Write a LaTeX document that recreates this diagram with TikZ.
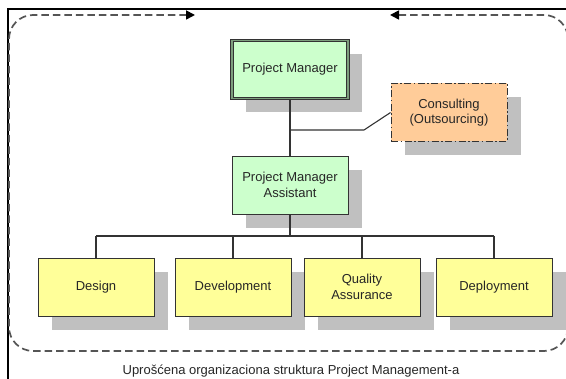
\documentclass[tikz,border=0pt]{standalone}
\usepackage{fontspec}
\setmainfont{Liberation Sans}
\usetikzlibrary{arrows.meta,shadows}
\definecolor{PMGreen}{HTML}{CCFFCC}
\definecolor{PMEdge}{HTML}{7E9E7E}
\definecolor{TeamYellow}{HTML}{FFFF99}
\definecolor{OutOrange}{HTML}{FFCC99}
\definecolor{Shade}{HTML}{C0C0C0}
\definecolor{Ink}{HTML}{333333}
\definecolor{Loop}{HTML}{555555}

\begin{document}
\begin{tikzpicture}[x=1pt,y=-1pt,
  box/.style={draw=Ink,line width=0.9pt,minimum width=116pt,minimum height=58pt,
    inner sep=2pt,align=center,font=\fontsize{13}{15.5}\selectfont,text=black!85,
    drop shadow={shadow xshift=14pt,shadow yshift=-14pt,fill=Shade,opacity=1}},
  lead/.style={box,fill=PMGreen},
  chief/.style={lead,double=PMEdge,double distance=1.6pt,line width=0.8pt},
  team/.style={box,fill=TeamYellow},
  extern/.style={box,fill=OutOrange,dash pattern=on 7pt off 2.5pt on 1.5pt off 2.5pt},
  wire/.style={draw=Ink,line width=1.1pt},
  loopline/.style={draw=Loop,line width=1.7pt,dash pattern=on 7.5pt off 4pt,rounded corners=24pt,
    {Triangle[length=9pt,width=9pt,color=black]}-{Triangle[length=9pt,width=9pt,color=black]}},
  caption/.style={font=\fontsize{13}{15.5}\selectfont,text=black!85}
]
\useasboundingbox (0,0) rectangle (566,379);
\clip (0,0) rectangle (566,379);

% frame
\draw[black,line width=1.1pt] (8,379) -- (8,9) -- (566,9);

% management
\node[chief]  (pm)   at (290,69.5) {Project Manager};
\node[extern] (cons) at (449,112.5) {Consulting\\(Outsourcing)};
\node[lead]   (pma)  at (290,185) {Project Manager\\Assistant};

% teams
\node[team] (design) at (96,287)  {Design};
\node[team] (devel)  at (233,287) {Development};
\node[team] (qa)     at (362,287) {Quality\\Assurance};
\node[team] (deploy) at (494,287) {Deployment};

% connectors
\coordinate (tap)  at (290,130);
\coordinate (kink) at (364,130);
\coordinate (bus)  at (290,236);
\draw[wire] (pm.south) -- (pma.north);
\draw[wire] (tap) -- (kink) -- (cons.west);
\draw[wire] (pma.south) -- (bus);
\draw[wire] (design.north |- bus) -- (deploy.north |- bus);
\foreach \t in {design,devel,qa,deploy}
  \draw[wire] (\t.north |- bus) -- (\t.north);

% project cycle
\coordinate (cycA) at (390,15);
\coordinate (cycB) at (195,15);
\draw[loopline] (cycA) -- (568,15) -- (568,351) -- (9,351) -- (9,15) -- (cycB);

\node[caption] (title) at (291,371) {Uprošćena organizaciona struktura Project Management-a};
\end{tikzpicture}
\end{document}
